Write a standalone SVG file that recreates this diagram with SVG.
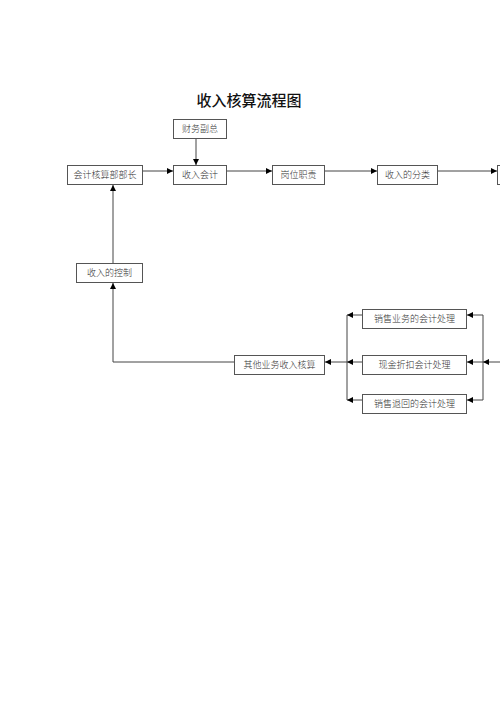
<svg xmlns="http://www.w3.org/2000/svg" width="500" height="708" viewBox="0 0 500 708">
<style>
.box{fill:#fff;stroke:#555;stroke-width:1}
.t{font-family:"Noto Sans CJK SC","Liberation Serif",serif;font-size:9px;fill:#333;text-anchor:middle;font-weight:300}
.c{fill:none;stroke:#444;stroke-width:1}
</style>
<defs>
<marker id="ah" viewBox="0 0 6 6" refX="6" refY="3" markerWidth="6" markerHeight="6" markerUnits="userSpaceOnUse" orient="auto">
<path d="M0,0 L6,3 L0,6 Z" fill="#000"/>
</marker>
</defs>
<rect width="500" height="708" fill="#fff"/>
<text x="249" y="106" style="font-family:'Noto Sans CJK SC',sans-serif;font-size:15px;font-weight:500;fill:#111;text-anchor:middle">收入核算流程图</text>
<g id="connectors">
<path class="c" d="M196,139 V165" marker-end="url(#ah)"/>
<path class="c" d="M143,171 H173" marker-end="url(#ah)"/>
<path class="c" d="M227,171 H272" marker-end="url(#ah)"/>
<path class="c" d="M325,171 H377" marker-end="url(#ah)"/>
<path class="c" d="M438,171 H497" marker-end="url(#ah)"/>
<path class="c" d="M113,263 V185" marker-end="url(#ah)"/>
<path class="c" d="M234,362 H113 V283" marker-end="url(#ah)"/>
<path class="c" d="M347,315 V400"/>
<path class="c" d="M362,315 H347" marker-end="url(#ah)"/>
<path class="c" d="M362,362 H347" marker-end="url(#ah)"/>
<path class="c" d="M362,400 H347" marker-end="url(#ah)"/>
<path class="c" d="M347,362 H325" marker-end="url(#ah)"/>
<path class="c" d="M483,315 V400"/>
<path class="c" d="M483,315 H467" marker-end="url(#ah)"/>
<path class="c" d="M483,362 H467" marker-end="url(#ah)"/>
<path class="c" d="M483,400 H467" marker-end="url(#ah)"/>
<path class="c" d="M500,362 H483" marker-end="url(#ah)"/>
</g>
<g id="n-cwfz"><rect class="box" x="173.5" y="119.5" width="53" height="19"/><text class="t" x="200" y="132">财务副总</text></g>
<g id="n-kjhsbbz"><rect class="box" x="67.5" y="165.5" width="75" height="19"/><text class="t" x="105" y="178">会计核算部部长</text></g>
<g id="n-srkj"><rect class="box" x="173.5" y="165.5" width="53" height="19"/><text class="t" x="200" y="178">收入会计</text></g>
<g id="n-gwzz"><rect class="box" x="272.5" y="165.5" width="52" height="19"/><text class="t" x="298.5" y="178">岗位职责</text></g>
<g id="n-srdfl"><rect class="box" x="377.5" y="165.5" width="60" height="19"/><text class="t" x="407.5" y="178">收入的分类</text></g>
<g id="n-cut"><rect class="box" x="497.5" y="165.5" width="20" height="19"/></g>
<g id="n-srdkz"><rect class="box" x="76.5" y="263.5" width="66" height="19"/><text class="t" x="109.5" y="276">收入的控制</text></g>
<g id="n-qtyw"><rect class="box" x="234.5" y="355.5" width="90" height="19"/><text class="t" x="279.5" y="368">其他业务收入核算</text></g>
<g id="n-xsyw"><rect class="box" x="362.5" y="309.5" width="104" height="19"/><text class="t" x="414.5" y="322">销售业务的会计处理</text></g>
<g id="n-xjzk"><rect class="box" x="362.5" y="355.5" width="104" height="19"/><text class="t" x="414.5" y="368">现金折扣会计处理</text></g>
<g id="n-xsth"><rect class="box" x="362.5" y="394.5" width="104" height="19"/><text class="t" x="414.5" y="407">销售退回的会计处理</text></g>
</svg>
